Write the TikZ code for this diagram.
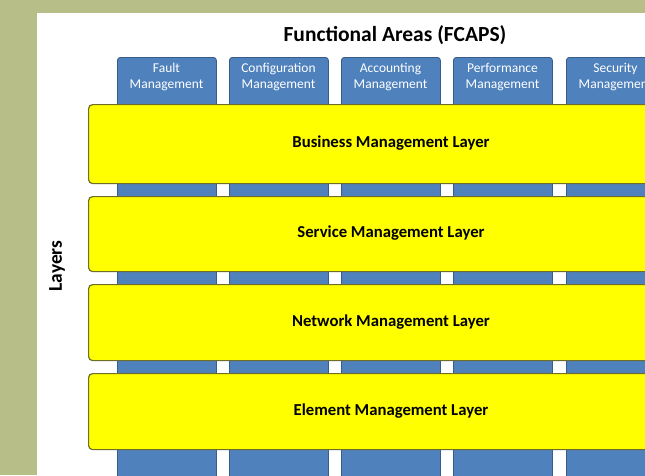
\documentclass[tikz,border=0pt]{standalone}
\usepackage{fontspec}
\setmainfont{Carlito}
\definecolor{bgolive}{HTML}{B8BE87}
\definecolor{colblue}{HTML}{4F81BD}
\definecolor{colborder}{HTML}{385D8A}
\definecolor{layyellow}{HTML}{FFFF00}
\definecolor{layborder}{HTML}{6E6E2A}
\tikzset{
  colbox/.style={draw=colborder, line width=0.8pt, fill=colblue, rounded corners=3pt,
    minimum width=99pt, minimum height=440pt, anchor=north west, inner sep=0pt},
  coltext/.style={text=white, font=\fontsize{13.5}{16}\selectfont, align=center, inner sep=0pt},
  laybox/.style={draw=layborder, line width=1.2pt, fill=layyellow, rounded corners=4pt,
    minimum width=580pt, anchor=north west, inner sep=0pt},
  laytext/.style={font=\fontsize{16.7}{20}\selectfont\bfseries, text=black},
  titletext/.style={font=\fontsize{21.5}{25}\selectfont\bfseries, text=black},
  sidetext/.style={font=\fontsize{19.5}{23}\selectfont\bfseries, text=black, rotate=90},
}
\begin{document}
\begin{tikzpicture}[x=1pt,y=-1pt]
\useasboundingbox (0,0) rectangle (645,475);
\clip (0,0) rectangle (645,475);
\fill[bgolive] (0,0) rectangle (645,475);
\fill[white] (37,13) rectangle (650,480);
\node[titletext] (title) at (395,35) {Functional Areas (FCAPS)};
% columns
\node[colbox] (c1) at (117,57) {};
\node[colbox] (c2) at (229,57) {};
\node[colbox] (c3) at (341,57) {};
\node[colbox] (c4) at (453,57) {};
\node[colbox] (c5) at (566,57) {};
\node[coltext] (c1t) at (166.5,77) {Fault\\Management};
\node[coltext] (c2t) at (278.5,77) {Configuration\\Management};
\node[coltext] (c3t) at (390.5,77) {Accounting\\Management};
\node[coltext] (c4t) at (502.5,77) {Performance\\Management};
\node[coltext] (c5t) at (615.5,77) {Security\\Management};
% layers
\node[laybox, minimum height=79pt] (l1) at (88,104) {};
\node[laybox, minimum height=75pt] (l2) at (88,196) {};
\node[laybox, minimum height=76pt] (l3) at (88,284) {};
\node[laybox, minimum height=76pt] (l4) at (88,373) {};
\node[laytext] (l1t) at (391,143.5) {Business Management Layer};
\node[laytext] (l2t) at (391,233.5) {Service Management Layer};
\node[laytext] (l3t) at (391,322) {Network Management Layer};
\node[laytext] (l4t) at (391,411) {Element Management Layer};
\node[sidetext] (layers) at (57,266) {Layers};
\end{tikzpicture}
\end{document}
